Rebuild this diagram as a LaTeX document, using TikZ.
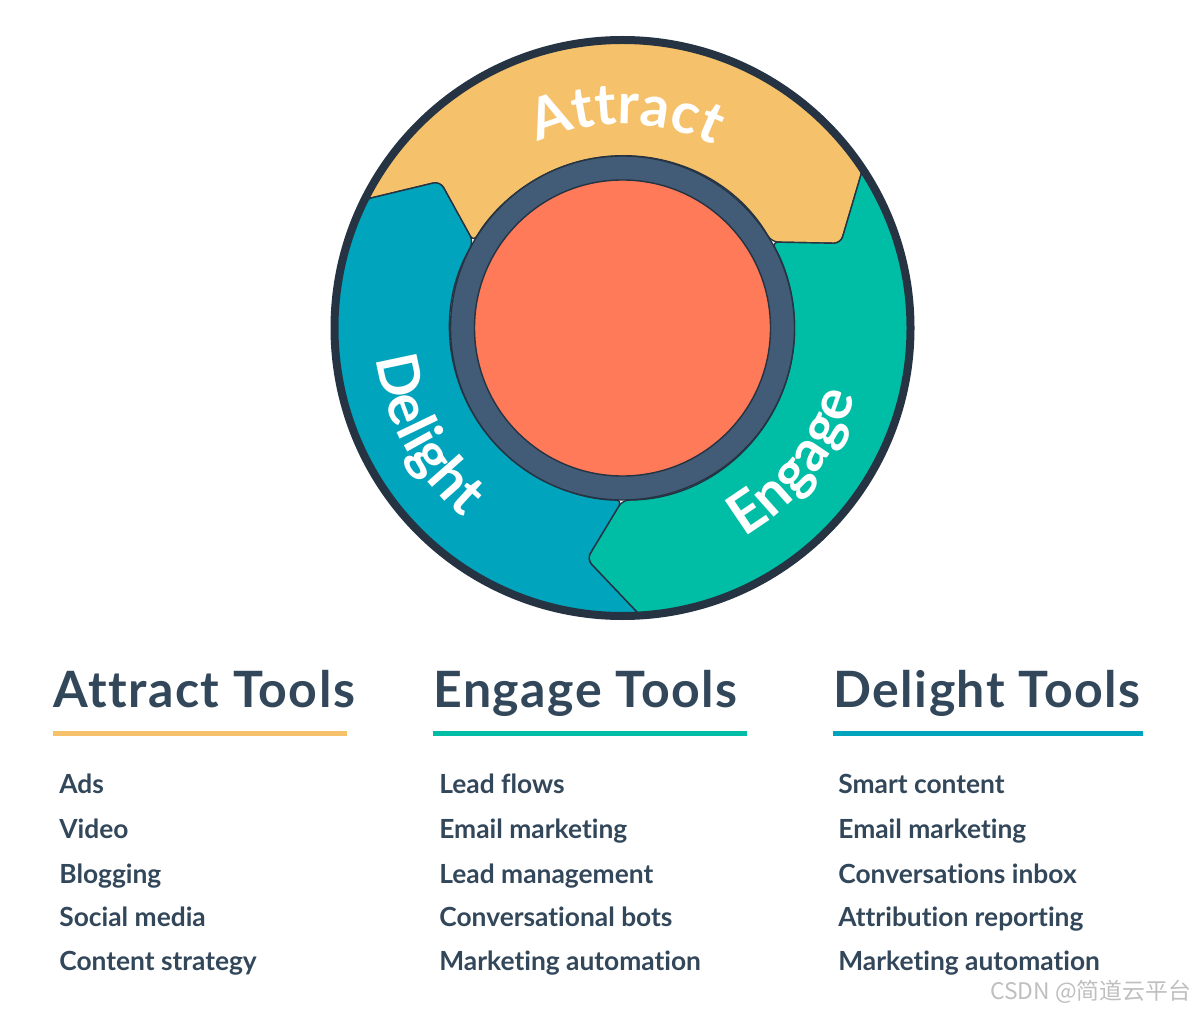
\documentclass[tikz,border=0pt]{standalone}
\usepackage{fontspec}
\setmainfont{Lato}[Ligatures=NoCommon]
\newfontfamily\headfont{Lato}[Ligatures=NoCommon,LetterSpace=3]
\newfontfamily\cjkfont{Noto Sans CJK SC}
\usetikzlibrary{calc,decorations.text}

\definecolor{attractC}{HTML}{F5C26B}
\definecolor{engageC}{HTML}{00BDA5}
\definecolor{delightC}{HTML}{00A4BD}
\definecolor{coreC}{HTML}{FF7A59}
\definecolor{ringC}{HTML}{425B76}
\definecolor{edgeC}{HTML}{253342}
\definecolor{textC}{HTML}{33475B}

\newcommand\wheelfont{\fontsize{32.5}{33}\selectfont\bfseries}

\begin{document}
\begin{tikzpicture}[x=0.02cm,y=0.02cm,{seg/.style={draw=edgeC,line width=0.8pt,rounded corners=4pt}},{head/.style={anchor=base west,inner sep=0pt,color=textC,font=\headfont\fontsize{28.5}{30}\selectfont\bfseries}},{item/.style={anchor=base west,inner sep=0pt,color=textC,font=\fontsize{15}{18}\selectfont\bfseries}},{uline/.style={line width=0.1cm}},{wheel/.style={decorate,decoration={text along path,text color=white,text align=center,text={|\wheelfont|#1}}}}]
	\useasboundingbox (0,0) rectangle (1200,-1013);
	%%centre of the wheel
	\coordinate (O) at (622.5,-328);

	%%segments, each one with its tip and its notch
	\foreach \s/\col in {153.5/attractC,33.5/engageC,-86.5/delightC}
	\filldraw [seg,fill=\col] ($(O)+(\s:288)$) arc [start angle=\s,end angle=\s-120,radius=288]
		-- ($(O)+({\s-132.3}:234)$) -- ($(O)+({\s-123.5}:172)$)
		arc [start angle=\s-123.5,end angle=\s-3.5,radius=172]
		-- ($(O)+({\s-12.3}:234)$) -- cycle;

	%%rim, ring and core
	\draw [edgeC,line width=0.16cm] (O) circle [radius=288];
	\filldraw [draw=edgeC,line width=0.8pt,fill=ringC] (O) circle [radius=172];
	\filldraw [draw=edgeC,line width=0.8pt,fill=coreC] (O) circle [radius=148];

	%%labels on the wheel
	\path [wheel=Attract] ($(O)+(149:204)$) arc [start angle=149,end angle=29,radius=204];
	\path [wheel=Engage] ($(O)+(-98:242)$) arc [start angle=-98,end angle=22,radius=242];
	\path [wheel=Delight] ($(O)+(148.5:248)$) arc [start angle=148.5,end angle=268.5,radius=248];

	%%headings
	\node [head] (attractHead) at (53,-707) {Attract Tools};
	\node [head] (engageHead) at (433,-707) {Engage Tools};
	\node [head] (delightHead) at (833,-707) {Delight Tools};
	\draw [uline,attractC] (53,-733.5) -- (347,-733.5);
	\draw [uline,engageC] (433,-733.5) -- (747,-733.5);
	\draw [uline,delightC] (833,-733.5) -- (1143,-733.5);

	%%attract tools
	\node [item] (ads) at (59,-793) {Ads};
	\node [item] (video) at (59,-838) {Video};
	\node [item] (blogging) at (59,-883) {Blogging};
	\node [item] (social) at (59,-926) {Social media};
	\node [item] (strategy) at (59,-970) {Content strategy};
	%%engage tools
	\node [item] (flows) at (439,-793) {Lead flows};
	\node [item] (emailE) at (439,-838) {Email marketing};
	\node [item] (leadman) at (439,-883) {Lead management};
	\node [item] (bots) at (439,-926) {Conversational bots};
	\node [item] (autoE) at (439,-970) {Marketing automation};
	%%delight tools
	\node [item] (smart) at (838,-793) {Smart content};
	\node [item] (emailD) at (838,-838) {Email marketing};
	\node [item] (inbox) at (838,-883) {Conversations inbox};
	\node [item] (attrib) at (838,-926) {Attribution reporting};
	\node [item] (autoD) at (838,-970) {Marketing automation};

	%%watermark
	\node [anchor=base west,inner sep=0pt,color=black!25,font=\cjkfont\fontsize{13}{15}\selectfont] (mark) at (990,-999) {CSDN @简道云平台};
\end{tikzpicture}
\end{document}
